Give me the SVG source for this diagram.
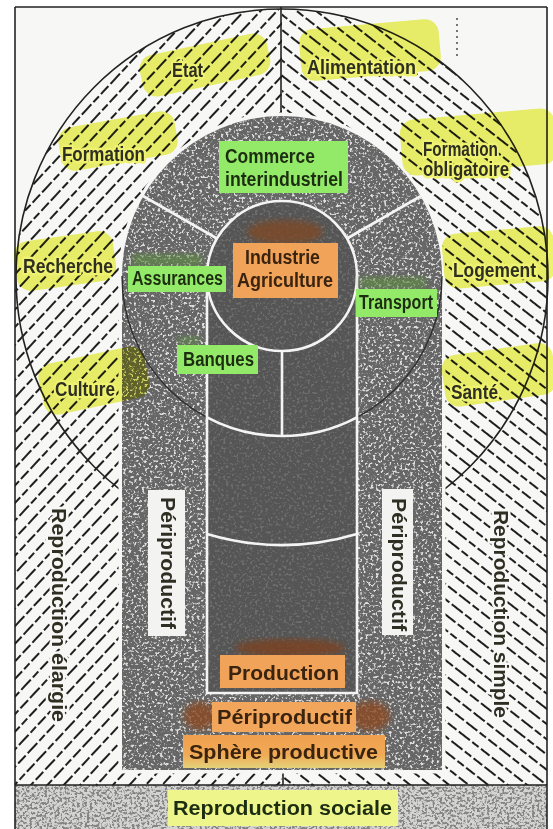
<svg xmlns="http://www.w3.org/2000/svg" width="553" height="829" viewBox="0 0 553 829">
<style>
.lbl{font-family:"Liberation Sans",Arial,sans-serif;font-size:20px;font-weight:bold;fill:#2e2e22;}
.hy{stroke:#eef270;stroke-width:5px;stroke-linejoin:round;paint-order:stroke;}
.hw{stroke:#f7f7f5;stroke-width:5px;stroke-linejoin:round;paint-order:stroke;}
.grn{fill:#93ea68;}
.org{fill:#f2a35a;}
.gt{fill:#1d2d12;}
.ot{fill:#3a2410;}
.hl{fill:#eef36c;mix-blend-mode:multiply;}
.wl{stroke:#f4f4f4;stroke-width:2.6;fill:none;}
.bl{stroke:#222;stroke-width:1.6;fill:none;}
</style>
<defs>
<pattern id="hL" patternUnits="userSpaceOnUse" width="42" height="12" patternTransform="rotate(-47)">
<line x1="0" y1="6" x2="42" y2="6" stroke="#1e1e1e" stroke-width="1.9" stroke-dasharray="11 3 14 3 8 3"/>
</pattern>
<pattern id="hR" patternUnits="userSpaceOnUse" width="42" height="12" patternTransform="rotate(38)">
<line x1="0" y1="6" x2="42" y2="6" stroke="#1e1e1e" stroke-width="1.9" stroke-dasharray="11 3 14 3 8 3"/>
</pattern>
<clipPath id="hatchArea">
<ellipse cx="282" cy="277" rx="266" ry="268"/>
<rect x="15" y="277" width="532" height="508"/>
</clipPath>
<clipPath id="uClip">
<path d="M122,770 L122,276 A160,160 0 0 1 442,276 L442,770 Z"/>
</clipPath>
<clipPath id="colClip">
<path d="M207,693 L207,276 A75,75 0 0 1 357,276 L357,693 Z"/>
</clipPath>
<clipPath id="bandClip">
<rect x="15" y="785" width="532" height="44"/>
</clipPath>
<filter id="spkW" filterUnits="userSpaceOnUse" x="0" y="0" width="553" height="829">
<feTurbulence type="fractalNoise" baseFrequency="0.38" numOctaves="2" seed="7"/>
<feColorMatrix type="matrix" values="0 0 0 0 1  0 0 0 0 1  0 0 0 0 1  6 0 0 0 -3.2"/>
</filter>
<filter id="spkD" filterUnits="userSpaceOnUse" x="0" y="0" width="553" height="829">
<feTurbulence type="fractalNoise" baseFrequency="0.4" numOctaves="2" seed="11"/>
<feColorMatrix type="matrix" values="0 0 0 0 0.2  0 0 0 0 0.2  0 0 0 0 0.2  7 0 0 0 -3.3"/>
</filter>
<filter id="blur3"><feGaussianBlur stdDeviation="3"/></filter>
<linearGradient id="sph" x1="0" y1="0" x2="0" y2="1">
<stop offset="0" stop-color="#f0a04e"/><stop offset="0.6" stop-color="#f0aa55"/><stop offset="1" stop-color="#e4d27a"/>
</linearGradient>
</defs>

<rect x="0" y="0" width="553" height="829" fill="#ffffff"/>
<rect x="15" y="7" width="532" height="822" fill="#f7f7f5"/>

<g id="hatching" clip-path="url(#hatchArea)">
<rect x="15" y="7" width="267" height="778" fill="url(#hL)"/>
<rect x="282" y="7" width="265" height="778" fill="url(#hR)"/>
</g>

<g id="outer-circle">
<ellipse class="bl" cx="282" cy="277" rx="266" ry="268"/>
<line class="bl" x1="281" y1="7" x2="281" y2="117"/>
<line class="bl" x1="283" y1="770" x2="283" y2="785"/>
</g>

<g id="sphere-u">
<path d="M122,770 L122,276 A160,160 0 0 1 442,276 L442,770 Z" fill="none" stroke="#f7f7f5" stroke-width="7"/>
<path d="M122,770 L122,276 A160,160 0 0 1 442,276 L442,770 Z" fill="#666666"/>
<g clip-path="url(#uClip)" opacity="0.8"><rect x="0" y="0" width="553" height="829" filter="url(#spkW)"/></g>
<path d="M122,276 A160,160 0 0 0 442,276" fill="none" stroke="#2e2e2e" stroke-width="1.4"/>
</g>

<g id="column">
<path d="M207,693 L207,276 A75,75 0 0 1 357,276 L357,693 Z" fill="#555555"/>
<g clip-path="url(#colClip)" opacity="0.15"><rect x="0" y="0" width="553" height="829" filter="url(#spkW)"/></g>
<path class="wl" d="M207,276 L207,693 L357,693 L357,276"/>
<circle class="wl" cx="282" cy="276" r="75"/>
<line class="wl" x1="217" y1="238.5" x2="143" y2="196"/>
<line class="wl" x1="347" y1="238.5" x2="421" y2="196"/>
<line class="wl" x1="282" y1="351" x2="282" y2="436"/>
<path class="wl" d="M207,417.3 A160,160 0 0 0 357,417.3"/>
<path class="wl" d="M207,534 A266,268 0 0 0 357,534"/>
</g>

<g id="bottom-band">
<rect x="15" y="785" width="532" height="44" fill="#d4d4d2"/>
<g clip-path="url(#bandClip)" opacity="0.9"><rect x="0" y="0" width="553" height="829" filter="url(#spkD)"/></g>
</g>

<g id="frame">
<line class="bl" x1="15" y1="7" x2="547" y2="7"/>
<line class="bl" x1="15" y1="7" x2="15" y2="829"/>
<line class="bl" x1="547" y1="7" x2="547" y2="829"/>
<line class="bl" x1="15" y1="785" x2="547" y2="785"/>
<line x1="457" y1="18" x2="457" y2="60" stroke="#555" stroke-width="1.6" stroke-dasharray="2 4"/>
</g>

<g id="smears">
<ellipse cx="285" cy="232" rx="38" ry="12" fill="#7e4a26" opacity="0.8" filter="url(#blur3)"/>
<ellipse cx="290" cy="648" rx="55" ry="9" fill="#7a4320" opacity="0.85" filter="url(#blur3)"/>
<ellipse cx="200" cy="716" rx="16" ry="14" fill="#8a4a20" opacity="0.8" filter="url(#blur3)"/>
<ellipse cx="370" cy="716" rx="20" ry="15" fill="#8a4a20" opacity="0.8" filter="url(#blur3)"/>
<rect x="132" y="254" width="70" height="12" fill="#5f8a45" opacity="0.7" filter="url(#blur3)"/>
<rect x="360" y="277" width="66" height="12" fill="#5f8a45" opacity="0.7" filter="url(#blur3)"/>
<rect x="178" y="336" width="22" height="9" fill="#5f8a45" opacity="0.6" filter="url(#blur3)"/>
</g>

<g id="highlights">
<rect class="hl" x="140" y="44" width="130" height="42" rx="14" transform="rotate(-12 205 65)"/>
<rect class="hl" x="300" y="24" width="140" height="52" rx="14" transform="rotate(-5 370 50)"/>
<rect class="hl" x="401" y="114" width="155" height="56" rx="14" transform="rotate(-5 478 142)"/>
<rect class="hl" x="59" y="119" width="118" height="44" rx="14" transform="rotate(-10 118 141)"/>
<rect class="hl" x="15" y="236" width="100" height="50" rx="14" transform="rotate(-8 65 261)"/>
<rect class="hl" x="443" y="230" width="112" height="55" rx="14" transform="rotate(-5 498 257)"/>
<rect class="hl" x="40" y="355" width="108" height="52" rx="14" transform="rotate(-12 92 381)"/>
<rect class="hl" x="443" y="349" width="112" height="52" rx="14" transform="rotate(-8 498 375)"/>
</g>

<g id="label-etat"><text class="lbl hy" x="172" y="77" textLength="31" lengthAdjust="spacingAndGlyphs">État</text></g>
<g id="label-alimentation"><text class="lbl hy" x="307" y="74" textLength="109" lengthAdjust="spacingAndGlyphs">Alimentation</text></g>
<g id="label-formation"><text class="lbl hy" x="62" y="161" textLength="83" lengthAdjust="spacingAndGlyphs">Formation</text></g>
<g id="label-formation-obligatoire">
<text class="lbl hy" x="423" y="156" textLength="75" lengthAdjust="spacingAndGlyphs">Formation</text>
<text class="lbl hy" x="423" y="176" textLength="86" lengthAdjust="spacingAndGlyphs">obligatoire</text>
</g>
<g id="label-recherche"><text class="lbl hy" x="23" y="273" textLength="90" lengthAdjust="spacingAndGlyphs">Recherche</text></g>
<g id="label-logement"><text class="lbl hy" x="453" y="277" textLength="83" lengthAdjust="spacingAndGlyphs">Logement</text></g>
<g id="label-culture"><text class="lbl hy" x="55" y="396" textLength="60" lengthAdjust="spacingAndGlyphs">Culture</text></g>
<g id="label-sante"><text class="lbl hy" x="451" y="399" textLength="47" lengthAdjust="spacingAndGlyphs">Santé</text></g>

<g id="label-reproduction-elargie"><text class="lbl hw" transform="translate(52,508) rotate(90)" textLength="214" lengthAdjust="spacingAndGlyphs">Reproduction élargie</text></g>
<g id="label-reproduction-simple"><text class="lbl hw" transform="translate(494,510) rotate(90)" textLength="208" lengthAdjust="spacingAndGlyphs">Reproduction simple</text></g>

<g id="node-periproductif-left">
<rect x="148" y="490" width="37" height="146" fill="#f3f3f1"/>
<text class="lbl" transform="translate(161,497) rotate(90)" textLength="132" lengthAdjust="spacingAndGlyphs">Périproductif</text>
</g>
<g id="node-periproductif-right">
<rect x="382" y="489" width="31" height="146" fill="#f3f3f1"/>
<text class="lbl" transform="translate(392,498) rotate(90)" textLength="133" lengthAdjust="spacingAndGlyphs">Périproductif</text>
</g>

<g id="node-commerce">
<rect class="grn" x="219" y="141" width="129" height="52"/>
<text class="lbl gt" x="225" y="163" textLength="90" lengthAdjust="spacingAndGlyphs">Commerce</text>
<text class="lbl gt" x="225" y="186" textLength="118" lengthAdjust="spacingAndGlyphs">interindustriel</text>
</g>
<g id="node-industrie">
<rect class="org" x="233" y="243" width="105" height="55"/>
<text class="lbl ot" x="245" y="264" textLength="75" lengthAdjust="spacingAndGlyphs">Industrie</text>
<text class="lbl ot" x="237" y="287" textLength="96" lengthAdjust="spacingAndGlyphs">Agriculture</text>
</g>
<g id="node-assurances">
<rect class="grn" x="128" y="266" width="98" height="26"/>
<text class="lbl gt" x="132" y="285" textLength="91" lengthAdjust="spacingAndGlyphs">Assurances</text>
</g>
<g id="node-transport">
<rect class="grn" x="356" y="289" width="81" height="28"/>
<text class="lbl gt" x="359" y="309" textLength="74" lengthAdjust="spacingAndGlyphs">Transport</text>
</g>
<g id="node-banques">
<rect class="grn" x="177" y="345" width="81" height="29"/>
<text class="lbl gt" x="183" y="366" textLength="71" lengthAdjust="spacingAndGlyphs">Banques</text>
</g>
<g id="node-production">
<rect class="org" x="220" y="655" width="125" height="33"/>
<text class="lbl ot" x="228" y="680" textLength="111" lengthAdjust="spacingAndGlyphs">Production</text>
</g>
<g id="node-periproductif-bottom">
<rect x="212" y="702" width="144" height="30" fill="#f1a65c"/>
<text class="lbl ot" x="217" y="724" textLength="135" lengthAdjust="spacingAndGlyphs">Périproductif</text>
</g>
<g id="node-sphere-productive">
<rect x="183" y="735" width="202" height="33" fill="url(#sph)"/>
<text class="lbl ot" x="189" y="759" textLength="189" lengthAdjust="spacingAndGlyphs">Sphère productive</text>
</g>
<g id="node-reproduction-sociale">
<rect x="168" y="790" width="230" height="36" fill="#eef58a"/>
<text class="lbl gt" x="173" y="815" textLength="219" lengthAdjust="spacingAndGlyphs">Reproduction sociale</text>
</g>
</svg>
